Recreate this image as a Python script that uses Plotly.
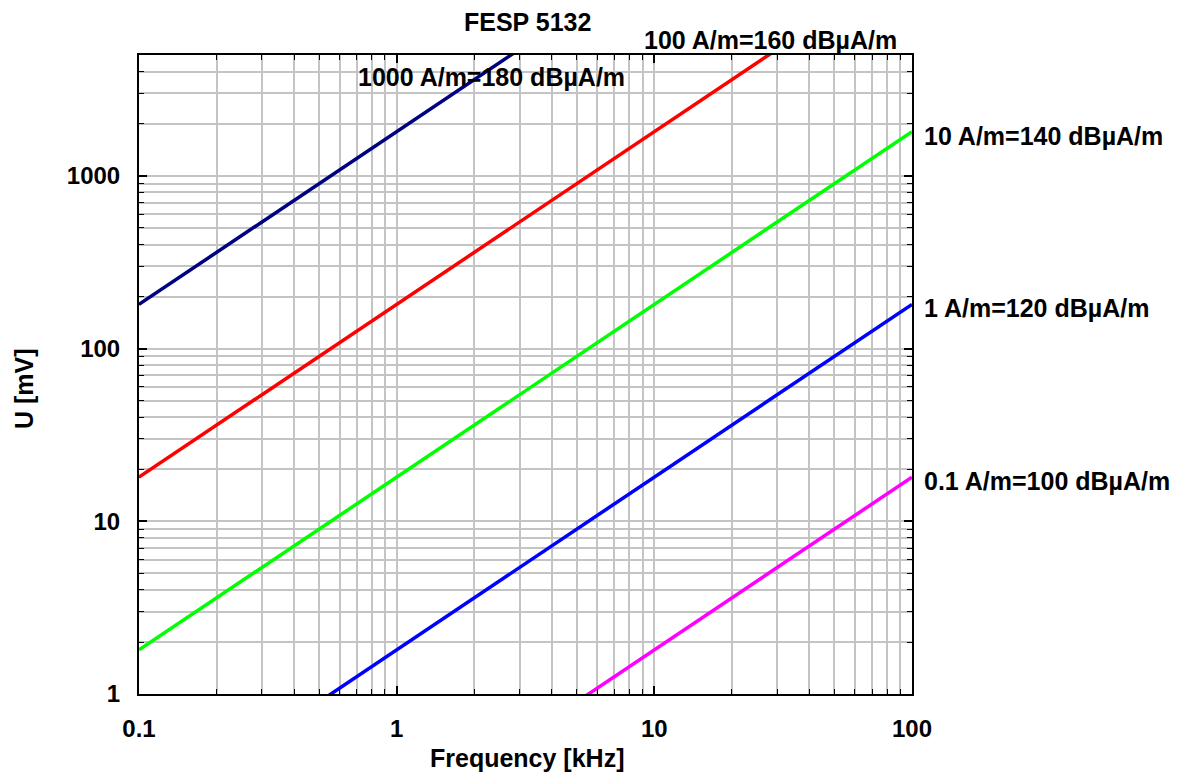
import math
import plotly.graph_objects as go

# Frequency points [kHz]
freq = [0.1, 0.2, 0.5, 1, 2, 5, 10, 20, 50, 100]

# Voltage U [mV] for each field strength
u_1000 = [180, 360, 900, 1800, 3600, 9000, 18000, 36000, 90000, 180000]
u_100 = [18, 36, 90, 180, 360, 900, 1800, 3600, 9000, 18000]
u_10 = [1.8, 3.6, 9, 18, 36, 90, 180, 360, 900, 1800]
u_1 = [0.18, 0.36, 0.9, 1.8, 3.6, 9, 18, 36, 90, 180]
u_01 = [0.018, 0.036, 0.09, 0.18, 0.36, 0.9, 1.8, 3.6, 9, 18]

labels = ["1000 A/m=180 dBµA/m", "100 A/m=160 dBµA/m", "10 A/m=140 dBµA/m",
          "1 A/m=120 dBµA/m", "0.1 A/m=100 dBµA/m"]
colors = ["#000080", "#ff0000", "#00ff00", "#0000ff", "#ff00ff"]
series = [u_1000, u_100, u_10, u_1, u_01]

x_ticks = [0.1, 1, 10, 100]
x_ticktext = ["0.1", "1", "10", "100"]
y_ticks = [1, 10, 100, 1000]
y_ticktext = ["1", "10", "100", "1000"]

FONT = "Liberation Sans, Arial, sans-serif"

fig = go.Figure()
for ys, c, name in zip(series, colors, labels):
    fig.add_trace(go.Scatter(x=freq, y=ys, mode="lines", name=name,
                             line=dict(color=c, width=3.5), showlegend=False))

grid = "#c4c4c4"
tick_font = dict(family=FONT, size=24, color="black", weight="bold")
common = dict(
    type="log", showline=True, linecolor="black", linewidth=2, mirror="allticks",
    ticks="inside", ticklen=8, tickwidth=1.5, tickcolor="black",
    showgrid=True, gridcolor=grid, gridwidth=1.5, zeroline=False,
    tickfont=tick_font,
    minor=dict(ticks="inside", ticklen=5, tickwidth=1.2, tickcolor="black",
               showgrid=True, gridcolor=grid, gridwidth=1.5, dtick="D1"),
)

fig.update_xaxes(range=[-1, 2], tickvals=x_ticks, ticktext=x_ticktext,
                 ticklabelstandoff=12, **common)
fig.update_yaxes(range=[0, 3.699], tickvals=y_ticks, ticktext=y_ticktext,
                 ticklabelstandoff=12, **common)

# page has an 8px body margin
fig.update_layout(
    width=1171, height=765,
    margin=dict(l=131, r=267, t=47, b=79),
    plot_bgcolor="white", paper_bgcolor="white",
)

L, R, T, B = 139, 912, 55, 694


def px(xp):
    return (xp - L) / (R - L)


def py(yp):
    return (B - yp) / (B - T)


ann_font = dict(family=FONT, size=25, color="black", weight="bold")

fig.add_annotation(text="FESP 5132", x=px(527), y=py(22), xref="paper", yref="paper",
                   showarrow=False, font=ann_font, xanchor="center", yanchor="middle")
fig.add_annotation(text=labels[0], x=px(491), y=py(77), xref="paper", yref="paper",
                   showarrow=False, font=ann_font, xanchor="center", yanchor="middle")
fig.add_annotation(text=labels[1], x=px(770), y=py(40), xref="paper", yref="paper",
                   showarrow=False, font=ann_font, xanchor="center", yanchor="middle")
for i in (2, 3, 4):
    fig.add_annotation(text=labels[i], x=2, y=math.log10(series[i][-1]),
                       xref="x", yref="y", showarrow=False, font=ann_font,
                       xanchor="left", yanchor="middle", xshift=10, yshift=-4)

fig.add_annotation(text="Frequency [kHz]", x=px(527), y=py(758), xref="paper", yref="paper",
                   showarrow=False, font=ann_font, xanchor="center", yanchor="middle")
fig.add_annotation(text="U [mV]", x=px(24), y=py(388), xref="paper", yref="paper",
                   showarrow=False, font=ann_font, xanchor="center", yanchor="middle",
                   textangle=-90)

fig.write_html("out.html")
